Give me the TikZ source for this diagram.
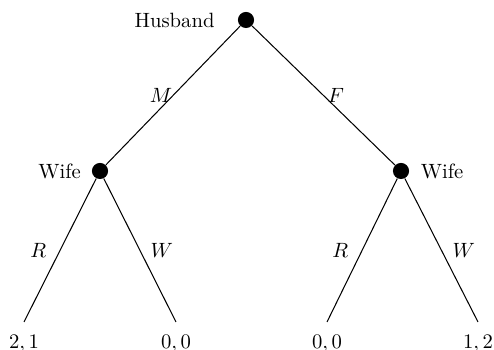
\documentclass[tikz,border=0pt]{standalone}
\begin{document}
\begin{tikzpicture}[x=0.484pt,y=-0.484pt,
  dec/.style={circle,fill=black,inner sep=0pt,minimum size=7.8pt},
  payoff/.style={anchor=north,inner xsep=0pt,inner ysep=6.3pt},
  branch/.style={line width=0.5pt},
  act/.style={font=\itshape}]
\useasboundingbox (0,0) rectangle (494,350);
\node[dec,label={[label distance=7.6pt]left:Husband}] (h) at (246,20) {};
\node[dec,label={[label distance=1.6pt]left:Wife}] (w1) at (100,171) {};
\node[dec,label={[label distance=2pt]right:Wife}] (w2) at (401,171) {};
\node[payoff] (l1) at (24,322) {$2,1$};
\node[payoff] (l2) at (176,322) {$0,0$};
\node[payoff] (l3) at (327,322) {$0,0$};
\node[payoff] (l4) at (478,322) {$1,2$};
\draw[branch] (h) -- node[midway,xshift=-5.8pt] {$M$} (w1);
\draw[branch] (h) -- node[midway,xshift=6pt] {$F$} (w2);
\draw[branch] (w1) -- node[midway,xshift=-10.6pt] {$R$} (l1.north);
\draw[branch] (w1) -- node[midway,xshift=10.6pt] {$W$} (l2.north);
\draw[branch] (w2) -- node[midway,xshift=-10.6pt] {$R$} (l3.north);
\draw[branch] (w2) -- node[midway,xshift=10.8pt] {$W$} (l4.north);
\end{tikzpicture}
\end{document}
